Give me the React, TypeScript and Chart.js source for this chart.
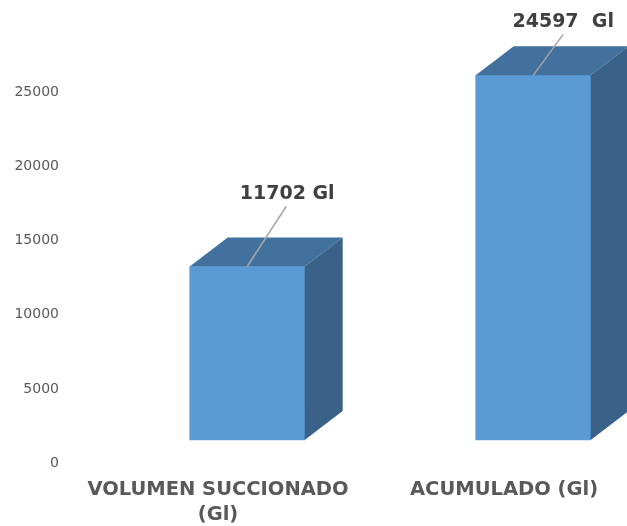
import { useEffect, useRef } from "react";
import { Chart, registerables } from "chart.js";

Chart.register(...registerables);

const categories = [["VOLUMEN SUCCIONADO", "(Gl)"], ["ACUMULADO (Gl)"]];
const volumes = [11702, 24597];
const pointLabels = ["11702 Gl", "24597  Gl"];
const tickValues = [0, 5000, 10000, 15000, 20000, 25000];
const floorValue = 1550;
const FONT = '"DejaVu Sans", sans-serif';

const depth = { dx: 38, dy: 29 };

const bars3d = {
  id: "bars3d",
  afterDatasetsDraw(chart: any) {
    const { ctx } = chart;
    const els = chart.getDatasetMeta(0).data;
    els.forEach((el: any, i: number) => {
      const p = el.getProps(["x", "y", "base", "width"], true);
      const l = p.x - p.width / 2;
      const r = p.x + p.width / 2;
      ctx.save();
      ctx.fillStyle = "#41719C";
      ctx.beginPath();
      ctx.moveTo(l, p.y);
      ctx.lineTo(l + depth.dx, p.y - depth.dy);
      ctx.lineTo(r + depth.dx, p.y - depth.dy);
      ctx.lineTo(r, p.y);
      ctx.closePath();
      ctx.fill();
      ctx.fillStyle = "#3A6288";
      ctx.beginPath();
      ctx.moveTo(r, p.y);
      ctx.lineTo(r + depth.dx, p.y - depth.dy);
      ctx.lineTo(r + depth.dx, p.base - depth.dy);
      ctx.lineTo(r, p.base);
      ctx.closePath();
      ctx.fill();
      // leader line and label
      ctx.strokeStyle = "#A6A6A6";
      ctx.lineWidth = 1.5;
      ctx.beginPath();
      ctx.moveTo(p.x, p.y);
      ctx.lineTo(p.x + (i === 0 ? 39 : 30), p.y - (i === 0 ? 60 : 41));
      ctx.stroke();
      ctx.fillStyle = "#404040";
      ctx.font = `bold 19px ${FONT}`;
      ctx.textAlign = "center";
      ctx.textBaseline = "middle";
      ctx.fillText(pointLabels[i], p.x + (i === 0 ? 40 : 30), p.y - (i === 0 ? 72 : 53));
      ctx.restore();
    });
  },
};

export default function App() {
  const ref = useRef<HTMLCanvasElement | null>(null);
  useEffect(() => {
    document.body.style.margin = "0";
    const chart = new Chart(ref.current!, {
      type: "bar",
      data: {
        datasets: [
          {
            data: volumes.map((v, i) => ({ x: i + 0.602, y: [floorValue, floorValue + v] })) as any,
            backgroundColor: "#5B9BD5",
            barThickness: 115,
            borderSkipped: false,
          },
        ],
      },
      options: {
        animation: false,
        responsive: false,
        parsing: { xAxisKey: "x", yAxisKey: "y" } as any,
        layout: { padding: 0 },
        plugins: { legend: { display: false }, tooltip: { enabled: false } },
        scales: {
          x: {
            type: "linear",
            offset: false,
            min: 0,
            max: 1.93,
            grid: { display: false },
            border: { display: false },
            afterBuildTicks: (s: any) => {
              s.ticks = categories.map((_, i) => ({ value: i + 0.5 }));
            },
            afterFit: (s: any) => {
              s.height = 63;
            },
            ticks: {
              autoSkip: false,
              maxRotation: 0,
              minRotation: 0,
              padding: 6,
              color: "#595959",
              font: { family: FONT, size: 19.5, weight: "bold", lineHeight: 1.3 },
              callback: (v: any) => categories[Math.floor(v)],
            },
          },
          y: {
            min: 0,
            max: 30121,
            grid: { display: false },
            border: { display: false },
            afterBuildTicks: (s: any) => {
              s.ticks = tickValues.map((value) => ({ value }));
            },
            afterFit: (s: any) => {
              s.width = 75;
            },
            ticks: {
              padding: 8,
              color: "#595959",
              font: { family: FONT, size: 14 },
              callback: (v: any) => String(v),
            },
          },
        },
      },
      plugins: [bars3d],
    } as any);
    return () => chart.destroy();
  }, []);
  return <canvas ref={ref} width={627} height={526} style={{ display: "block", width: 627, height: 526 }} />;
}
